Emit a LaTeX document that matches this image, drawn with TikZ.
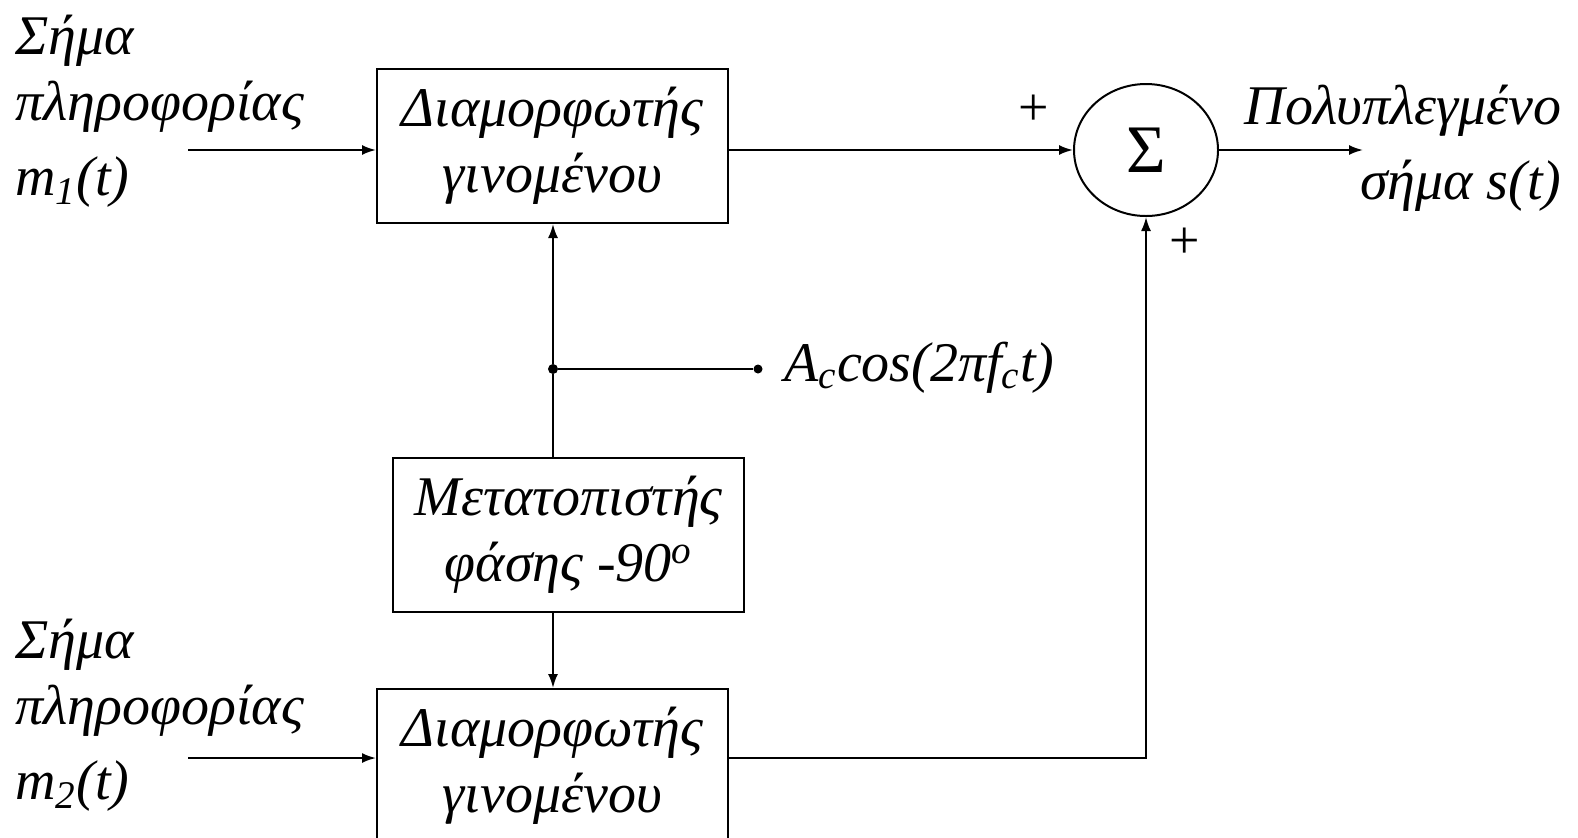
\documentclass[tikz,border=0pt]{standalone}
\usepackage{fontspec}
\setmainfont{Liberation Serif}
\usetikzlibrary{positioning,arrows.meta,shapes.geometric}

\begin{document}
\begin{tikzpicture}[
    x=0.5pt, y=-0.5pt,
    font=\itshape\fontsize{28}{33}\selectfont,
    block/.style={draw, line width=1pt, minimum width=175.5pt, minimum height=77pt, align=center, inner sep=0pt},
    adder/.style={draw, ellipse, line width=1pt, minimum width=72pt, minimum height=66pt, inner sep=0pt},
    lbl/.style={align=left, inner sep=0pt},
    sign/.style={font=\upshape\fontsize{27}{33}\selectfont, inner sep=0pt},
    arrow/.style={-{Latex[length=7pt,width=5pt]}, line width=1pt},
    wire/.style={line width=1pt},
    dot/.style={circle, fill, inner sep=0pt, minimum size=5pt}
]
\useasboundingbox (0,0) rectangle (1578,837);

% blocks
\node[block] (mod1) at (552.5,146) {Διαμορφωτής\\γινομένου};
\node[block, below=116.5pt of mod1, xshift=8pt] (shift) {Μετατοπιστής\\φάσης -90\textsuperscript{o}};
\node[block, below=37.5pt of shift, xshift=-8pt] (mod2) {Διαμορφωτής\\γινομένου};
\node[adder, right=172pt of mod1, yshift=-2pt] (sum) {\upshape\fontsize{34}{34}\selectfont Σ};

% inputs, output and carrier
\coordinate (in1) at (188,150);
\coordinate (in2) at (188,758);
\coordinate (out) at (1363,150);
\node[dot] (jn) at (553,369) {};
\node[dot, minimum size=4.5pt] (carrier) at (758,369) {};

% labels
\node[lbl, anchor=north west] (msg1) at (15,15) {Σήμα\\πληροφορίας\\[4.5pt]m\textsubscript{1}(t)};
\node[lbl, anchor=north west] (msg2) at (15,619) {Σήμα\\πληροφορίας\\[4.5pt]m\textsubscript{2}(t)};
\node[lbl, align=right, anchor=north east] (muxout) at (1562,85) {Πολυπλεγμένο\\[4.5pt]σήμα s(t)};
\node[anchor=base west, inner sep=0pt] (carriertxt) at (784,381) {A\textsubscript{c}cos(2πf\textsubscript{c}t)};
\node[sign] (plus1) at (1034,110) {+};
\node[sign] (plus2) at (1185,243) {+};

% connections
\draw[arrow] (in1) -- (in1 -| mod1.west);
\draw[arrow] (in2) -- (in2 -| mod2.west);
\draw[arrow] (in1 -| mod1.east) -- (sum.west);
\draw[arrow] (in2 -| mod2.east) -| (sum.south);
\draw[arrow] (sum.east) -- (out);
\draw[arrow] (jn) -- (jn |- mod1.south);
\draw[wire] (shift.north -| jn) -- (jn) -- (carrier);
\draw[arrow] (shift.south -| jn) -- (jn |- mod2.north);
\end{tikzpicture}
\end{document}
